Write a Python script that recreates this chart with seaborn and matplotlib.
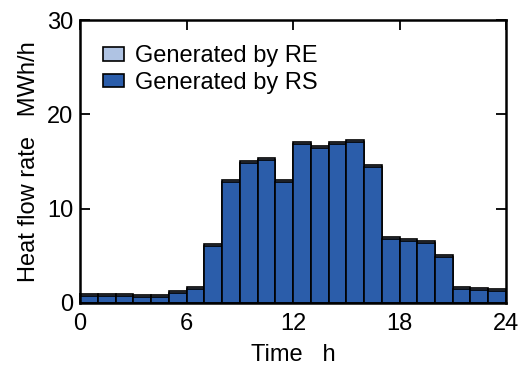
import numpy as np
import pandas as pd
import matplotlib
matplotlib.use("Agg")
import matplotlib.pyplot as plt
import seaborn as sns
from matplotlib.patches import Patch

# -----------------------------
# Data (hourly heat flow, MWh/h)
# -----------------------------
hours = list(range(24))
rs_values = [0.75, 0.75, 0.75, 0.6, 0.6, 1.05, 1.45, 6.05, 12.85, 14.8, 15.15, 12.8,
             16.9, 16.4, 16.9, 17.05, 14.45, 6.8, 6.6, 6.4, 4.9, 1.45, 1.35, 1.25]
re_values = [0.2] * 24

RE_COLOR = '#afc3e3'
RS_COLOR = '#2b5daa'

# -----------------------------
# Build frame
# -----------------------------
df = pd.DataFrame({
    'Hour': [h + 0.5 for h in hours],
    'RS': rs_values,
    'RE': re_values,
})
df['Total'] = df['RS'] + df['RE']

# -----------------------------
# Plot
# -----------------------------
sns.set_style('ticks')
plt.rcParams['font.family'] = ['Liberation Sans', 'DejaVu Sans']
plt.rcParams['text.color'] = 'black'
plt.rcParams['axes.labelcolor'] = 'black'
plt.rcParams['xtick.color'] = 'black'
plt.rcParams['ytick.color'] = 'black'

fig = plt.figure(figsize=(5.21, 3.67), dpi=100)
ax = fig.add_axes([0.1536, 0.1744, 0.8176, 0.7711])

# total first (RE on top), then RS over it
sns.barplot(data=df, x='Hour', y='Total', native_scale=True, width=1,
            color=RE_COLOR, saturation=1, edgecolor='black', linewidth=1.2,
            errorbar=None, ax=ax)
sns.barplot(data=df, x='Hour', y='RS', native_scale=True, width=1,
            color=RS_COLOR, saturation=1, edgecolor='black', linewidth=1.2,
            errorbar=None, ax=ax)

ax.set_xlim(0, 24)
ax.set_ylim(0, 30)
ax.set_xticks([0, 6, 12, 18, 24])
ax.set_yticks([0, 10, 20, 30])
ax.tick_params(direction='in', length=7, width=1.3, labelsize=17,
               top=True, right=True, pad=5)
ax.tick_params(axis='x', pad=7)
ax.set_xlabel('Time   h', fontsize=17, labelpad=7)
ax.set_ylabel('Heat flow rate   MWh/h', fontsize=17, labelpad=5)
for s in ax.spines.values():
    s.set_linewidth(1.8)
    s.set_color('black')
    s.set_visible(True)

handles = [Patch(facecolor=RE_COLOR, edgecolor='black', linewidth=1.2),
           Patch(facecolor=RS_COLOR, edgecolor='black', linewidth=1.2)]
ax.legend(handles, ['Generated by RE', 'Generated by RS'], loc='upper left',
          bbox_to_anchor=(0.055, 0.91), frameon=False, fontsize=17,
          handlelength=0.85, handleheight=0.5, handletextpad=0.5,
          labelspacing=0.18, borderpad=0, borderaxespad=0)

fig.savefig('out.png', dpi=100)
